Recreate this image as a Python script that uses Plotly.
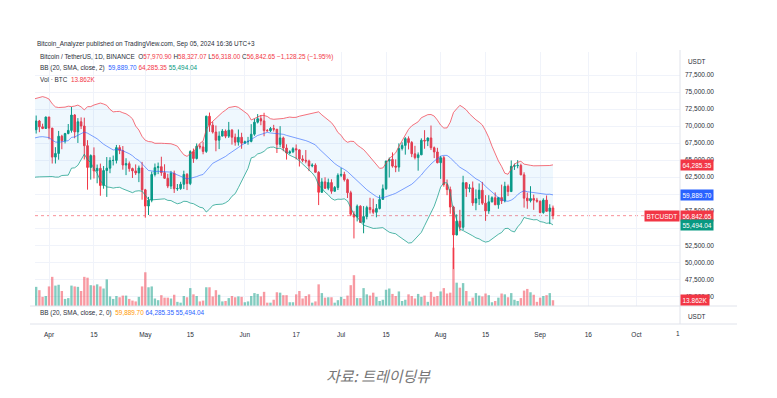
import plotly.graph_objects as go
import pandas as pd

# ---------------- data ----------------
warmup_start = "2024-03-07"
warmup_closes = [66925, 68300, 68498, 69020, 72123, 71481, 73083, 71397, 69403, 65315,
                 68390, 67548, 61912, 67913, 65491, 63779, 64062, 67234, 69958, 69987, 69455]

candle_start = "2024-03-28"
opens = [
    69455, 70745, 69893, 69645,
    71333, 69702, 65446, 65980, 68508, 67837, 68896, 69360, 71620, 69146, 70631, 70006, 67117, 63924, 65662,
    63420, 63794, 61277, 63470, 63818, 64941, 64960, 66838, 66408, 64277, 64482, 63756, 63420, 63114, 63842,
    60637, 58254, 59123, 62890, 63892, 64038, 63162, 62334, 61188, 63075, 60792, 60826, 61448, 62900, 61552,
    66252, 65232, 67048, 66940, 66279, 71447, 70136, 69122, 67929, 68526, 69265, 68518, 69394, 68366, 67635, 68354,
    67491, 67706, 67751, 68804, 70567, 71082, 70757, 69342, 69305, 69648, 69541, 67314, 68263, 66774, 66044,
    66224, 66676, 66504, 65175, 64974, 64869, 64143, 64262, 63211, 60277, 61803, 60865, 61706, 60427, 60986,
    62772, 62900, 62130, 60209, 57050, 56640, 58239, 55857, 56714, 58051, 57725, 57344, 57899, 59231, 60787,
    64870, 65097, 64119, 63974, 66710, 67163, 68154, 67585, 65927, 65372, 65777, 67912, 67813, 68255, 66820, 66201,
    64619, 65357, 61415, 60680, 58116, 54018, 56030, 55134, 61685, 60837, 60923, 58712, 59346, 60587, 58684,
    57541, 58875, 59480, 58439, 59494, 59013, 61157, 60381, 64094, 64178, 64220, 62834, 59415, 59034, 59359, 59123,
    58973, 57301, 59132, 57487, 57970.90,
]
highs = [
    71550, 70900, 70350, 71370,
    71340, 69710, 66900, 69290, 68720, 69000, 70300, 72800, 71760, 71170, 71280, 71230, 67930, 65840, 66870,
    64350, 64490, 64130, 65450, 65420, 65670, 67230, 67200, 67070, 65280, 64800, 63900, 64370, 64200, 64740,
    60780, 59600, 63320, 64500, 64640, 65500, 64390, 62990, 63420, 63460, 61490, 61820, 63450, 63100, 66450,
    66700, 67450, 67400, 67700, 71520, 71980, 70620, 70080, 69220, 69560, 69500, 70610, 69560, 68900, 69500, 69020,
    67860, 68410, 70280, 71060, 71760, 71620, 71950, 69560, 69870, 70180, 69560, 69990, 68450, 67320, 66450,
    66900, 67300, 66580, 65720, 66480, 65070, 64530, 64520, 63370, 62350, 62480, 62290, 62190, 61200, 63060,
    63860, 63290, 62280, 60500, 57500, 58480, 58370, 58250, 58300, 59470, 59360, 58550, 59850, 61420, 64900,
    65390, 66130, 65110, 67460, 67620, 68370, 68480, 67800, 67100, 66130, 68200, 69400, 68320, 70080, 67000, 66810,
    65600, 65600, 62150, 61110, 58300, 57040, 57700, 62700, 61750, 61470, 61860, 60700, 61580, 61800, 59850,
    59850, 59690, 60260, 59600, 61400, 61820, 61420, 64950, 64490, 65000, 64480, 63210, 60230, 61170, 59940, 59460,
    59050, 59400, 59810, 58520, 58327.07,
]
lows = [
    68900, 69100, 69550, 69600,
    68060, 64500, 64500, 65060, 66600, 67450, 68800, 69040, 68210, 67520, 69560, 65090, 60660, 62130, 62300,
    61600, 59770, 60800, 59600, 63080, 64220, 64510, 65880, 63600, 62800, 63300, 62380, 62810, 61770, 59190,
    56550, 56940, 58810, 62600, 62940, 62700, 62280, 60890, 60750, 60180, 60490, 60630, 60750, 60600, 61330,
    64600, 65100, 66600, 65860, 66060, 69160, 68900, 66300, 66620, 68500, 68220, 68250, 67280, 67120, 67130, 66670,
    67390, 67260, 67610, 68570, 70380, 70120, 68500, 69220, 69130, 69200, 66050, 66900, 66300, 65080, 65860,
    66030, 65100, 64060, 64690, 64530, 63380, 63950, 63180, 58400, 60240, 60760, 60590, 60060, 60380, 60610,
    62500, 61860, 59440, 56770, 53500, 56000, 55770, 54260, 56300, 57160, 57050, 56600, 57760, 59220, 60630,
    62450, 63900, 63230, 63300, 66420, 65800, 66570, 65440, 65100, 63450, 65740, 66670, 67060, 66480, 65300, 64530,
    62250, 61100, 59850, 57120, 49000, 53950, 54560, 54730, 59600, 60270, 58290, 57640, 58410, 58430, 56080,
    57110, 58790, 58420, 57860, 58560, 58790, 59720, 60350, 63560, 63800, 62800, 58030, 57860, 58790, 57700, 58750,
    57200, 57120, 57420, 55600, 56318.00,
]
closes = [
    70745, 69893, 69645, 71333,
    69702, 65446, 65980, 68508, 67837, 68896, 69360, 71620, 69146, 70631, 70006, 67117, 63924, 65662, 63420,
    63794, 61277, 63470, 63818, 64941, 64960, 66838, 66408, 64277, 64482, 63756, 63420, 63114, 63842, 60637,
    58254, 59123, 62890, 63892, 64038, 63162, 62334, 61188, 63075, 60792, 60826, 61448, 62900, 61552, 66252,
    65232, 67048, 66940, 66279, 71447, 70136, 69122, 67929, 68526, 69265, 68518, 69394, 68366, 67635, 68354, 67491,
    67706, 67751, 68804, 70567, 71082, 70757, 69342, 69305, 69648, 69541, 67314, 68263, 66774, 66044, 66224,
    66676, 66504, 65175, 64974, 64869, 64143, 64262, 63211, 60277, 61803, 60865, 61706, 60427, 60986, 62772,
    62900, 62130, 60209, 57050, 56640, 58239, 55857, 56714, 58051, 57725, 57344, 57899, 59231, 60787, 64870,
    65097, 64119, 63974, 66710, 67163, 68154, 67585, 65927, 65372, 65777, 67912, 67813, 68255, 66820, 66201, 64619,
    65357, 61415, 60680, 58116, 54018, 56030, 55134, 61685, 60837, 60923, 58712, 59346, 60587, 58684, 57541,
    58875, 59480, 58439, 59494, 59013, 61157, 60381, 64094, 64178, 64220, 62834, 59415, 59034, 59359, 59123, 58973,
    57301, 59132, 57487, 57970.90, 56842.65,
]
volumes_k = [
    46, 38, 22, 24,
    47, 70, 49, 51, 36, 17, 19, 49, 47, 46, 36, 70, 68, 50, 49, 52, 47, 42, 64, 23, 17, 24, 21, 25, 25, 17, 13, 11, 22, 47,
    81, 45, 47, 18, 14, 26, 20, 20, 18, 27, 10, 8, 24, 21, 43, 28, 24, 11, 13, 45, 45, 23, 38, 27, 11, 12, 19, 24, 21, 23, 22,
    9, 11, 24, 31, 29, 23, 34, 8, 8, 15, 33, 32, 26, 26, 9, 9, 28, 36, 18, 24, 28, 8, 11, 52, 31, 20, 21, 21, 8, 14,
    22, 17, 25, 50, 74, 19, 19, 43, 28, 25, 32, 22, 12, 15, 39, 42, 29, 24, 35, 12, 15, 28, 24, 18, 29, 22, 25, 10, 34, 22, 24,
    35, 43, 30, 32, 140, 56, 44, 55, 36, 11, 20, 31, 25, 23, 30, 26, 9, 12, 20, 30, 28, 21, 31, 15, 12, 19, 37, 41, 33, 27, 10,
    20, 24, 26, 31, 13.862,
]
# Bollinger values shown in the chart's legend (basis, upper, lower)
bb_legend = [59889.70, 64285.35, 55494.04]

xtick_dates = ["2024-04-01", "2024-04-15", "2024-05-01", "2024-05-15", "2024-06-01", "2024-06-17",
               "2024-07-01", "2024-07-15", "2024-08-01", "2024-08-15", "2024-09-01", "2024-09-16", "2024-10-01"]
xtick_labels = ["Apr", "15", "May", "15", "Jun", "17", "Jul", "15", "Aug", "15", "Sep", "16", "Oct"]
price_ticks = [45000, 47500, 50000, 52500, 57500, 62500, 65000,
               67500, 70000, 72500, 75000, 77500]
hidden_price_ticks = [55000, 60000]

# ---------------- colours / layout constants ----------------
RED, GREEN, BLUE, ORANGE = "#F23645", "#089981", "#2962FF", "#FF9800"
TXT = "#2a2e39"
GRID = "#f0f3fa"
PAGE = 8                      # browser body margin
W, H = 777 - PAGE, 398 - PAGE
ML, MR, MT, MB = 35, 97, 52, 74   # in page pixels
PW, PH = 777 - ML - MR, 398 - MT - MB
PANE_BOTTOM = 306
PX_PER_DAY, APR1_PX = 3.21, 49
PRICE_TOP, PRICE_BOTTOM = 80877, 43579
VOL_MAX_K = 610


def px(x):
    return (x - ML) / PW


def py(y):
    return (398 - MB - y) / PH


# ---------------- derived series ----------------
dates = pd.date_range(candle_start, periods=len(closes), freq="D")
warm_dates = pd.date_range(warmup_start, periods=len(warmup_closes), freq="D")
all_close = pd.Series(list(warmup_closes) + list(closes), index=warm_dates.append(dates))
basis = all_close.rolling(20).mean()
sd = all_close.rolling(20).std(ddof=0)
upper = (basis + 2 * sd).dropna()
lower = (basis - 2 * sd).dropna()
basis = basis.dropna()

apr1 = pd.Timestamp("2024-04-01")
x0 = apr1 - pd.Timedelta(days=(APR1_PX - ML) / PX_PER_DAY)
x1 = apr1 + pd.Timedelta(days=(ML + PW - APR1_PX) / PX_PER_DAY)

vol_colors = ["rgba(8,153,129,0.5)" if c >= o else "rgba(242,54,69,0.5)" for o, c in zip(opens, closes)]

fig = go.Figure()
fig.add_trace(go.Bar(x=dates, y=volumes_k, marker=dict(color=vol_colors, line=dict(width=0)),
                     xaxis="x", yaxis="y", hoverinfo="skip"))
fig.add_trace(go.Scatter(x=upper.index, y=upper.values, mode="lines", yaxis="y2",
                         line=dict(color="rgba(242,54,69,0.7)", width=1), hoverinfo="skip"))
fig.add_trace(go.Scatter(x=lower.index, y=lower.values, mode="lines", yaxis="y2", fill="tonexty",
                         fillcolor="rgba(33,150,243,0.07)",
                         line=dict(color="rgba(8,153,129,0.7)", width=1), hoverinfo="skip"))
fig.add_trace(go.Scatter(x=basis.index, y=basis.values, mode="lines", yaxis="y2",
                         line=dict(color="rgba(41,98,255,0.6)", width=1), hoverinfo="skip"))
fig.add_trace(go.Candlestick(x=dates, open=opens, high=highs, low=lows, close=closes, yaxis="y2",
                             increasing=dict(line=dict(color=GREEN, width=1), fillcolor=GREEN),
                             decreasing=dict(line=dict(color=RED, width=1), fillcolor=RED),
                             whiskerwidth=0, hoverinfo="skip"))

dom = [py(PANE_BOTTOM), 1]
fig.update_layout(
    width=W, height=H, margin=dict(l=ML - PAGE, r=MR, t=MT - PAGE, b=MB),
    paper_bgcolor="white", plot_bgcolor="white", showlegend=False, bargap=0.25,
    font=dict(family="Liberation Sans, Arial, sans-serif", color=TXT, size=6.5),
    xaxis=dict(type="date", range=[x0, x1], anchor="free", position=0,
               tickvals=xtick_dates, ticktext=xtick_labels, tickfont=dict(size=6.5, color=TXT),
               ticks="outside", ticklen=4, tickcolor="rgba(0,0,0,0)",
               showgrid=True, gridcolor=GRID, gridwidth=1,
               showline=False, zeroline=False, rangeslider=dict(visible=False), fixedrange=True),
    yaxis=dict(domain=dom, range=[0, VOL_MAX_K], visible=False, fixedrange=True),
    yaxis2=dict(domain=dom, overlaying="y", side="right", range=[PRICE_BOTTOM, PRICE_TOP],
                tickvals=price_ticks, tickformat=",.2f", tickfont=dict(size=6.5, color=TXT),
                ticks="", ticklabelstandoff=4, showgrid=True, gridcolor=GRID, gridwidth=1,
                minor=dict(tickvals=hidden_price_ticks, showgrid=True, gridcolor=GRID, ticks=""),
                zeroline=False, showline=False, fixedrange=True, automargin=False),
)

# separators and current price line
shapes = [
    dict(type="line", xref="paper", yref="y2", x0=0, x1=1, y0=closes[-1], y1=closes[-1],
         line=dict(color="rgba(242,54,69,0.55)", width=1, dash="dot"), layer="below"),
    dict(type="line", xref="paper", yref="paper", x0=px(30), x1=px(737), y0=py(PANE_BOTTOM), y1=py(PANE_BOTTOM),
         line=dict(color="#e0e3eb", width=1)),
    dict(type="line", xref="paper", yref="paper", x0=px(30), x1=px(737), y0=0, y1=0,
         line=dict(color="#e0e3eb", width=1)),
    dict(type="line", xref="paper", yref="paper", x0=1, x1=1, y0=0, y1=py(50),
         line=dict(color="#e0e3eb", width=1)),
]
fig.update_layout(shapes=shapes)

ann = []


def txt(x, y, text, size=6.5, color=TXT, xanchor="left"):
    ann.append(dict(xref="paper", yref="paper", x=px(x), y=py(y), text=text, showarrow=False,
                    xanchor=xanchor, yanchor="middle", font=dict(size=size, color=color)))


def span(t, c):
    return f'<span style="color:{c}">{t}</span>'


b_basis, b_upper, b_lower = bb_legend
txt(35, 44, "Bitcoin_Analyzer published on TradingView.com, Sep 05, 2024 16:36 UTC+3", size=6.4)
chg = closes[-1] - opens[-1]
pct = chg / opens[-1] * 100
txt(38, 57, "Bitcoin / TetherUS, 1D, BINANCE  "
    + "O" + span(f"{opens[-1]:,.2f}", RED) + " H" + span(f"{highs[-1]:,.2f}", RED)
    + " L" + span(f"{lows[-1]:,.2f}", RED) + " C" + span(f"{closes[-1]:,.2f}", RED)
    + " " + span(f"\u2212{abs(chg):,.2f} (\u2212{abs(pct):.2f}%)", RED), size=6.4)
txt(38, 68, "BB (20, SMA, close, 2)  " + span(f"{b_basis:,.2f}", BLUE) + " "
    + span(f"{b_upper:,.2f}", RED) + " " + span(f"{b_lower:,.2f}", GREEN), size=6.4)
txt(38, 79, "Vol \u00b7 BTC  " + span(f"{volumes_k[-1]:.3f}K", RED), size=6.4)
txt(38, 313, "BB (20, SMA, close, 2, 0)  " + span(f"{b_basis:,.2f}", ORANGE) + " "
    + span(f"{b_upper:,.2f}", BLUE) + " " + span(f"{b_lower:,.2f}", BLUE), size=6.4)
txt(686, 61, "USDT", size=6.4)
txt(686, 316, "USDT", size=6.4)
txt(678, 333, "1", size=6.5, xanchor="center")


# right-hand price labels
def plabel(yval, yref, text, bg, xanchor="left"):
    ann.append(dict(xref="paper", yref=yref, x=1, y=yval, text=text, showarrow=False,
                    xanchor=xanchor, yanchor="middle", bgcolor=bg, borderpad=1.5,
                    font=dict(size=6.5, color="white")))


plabel(b_upper, "y2", f"{b_upper:,.2f}", RED)
plabel(b_basis, "y2", f"{b_basis:,.2f}", BLUE)
plabel(closes[-1], "y2", f"{closes[-1]:,.2f}", RED)
plabel(b_lower, "y2", f"{b_lower:,.2f}", GREEN)
plabel(closes[-1], "y2", "BTCUSDT", RED, xanchor="right")
plabel(volumes_k[-1], "y", f"{volumes_k[-1]:.3f}K", RED)

# caption
ann.append(dict(xref="paper", yref="paper", x=px(378), y=py(375), text="자료: 트레이딩뷰", showarrow=False,
                xanchor="center", yanchor="middle",
                font=dict(family="Noto Sans CJK KR", size=15, color="#777777", style="italic")))

fig.update_layout(annotations=ann)
fig.write_html("out.html")
